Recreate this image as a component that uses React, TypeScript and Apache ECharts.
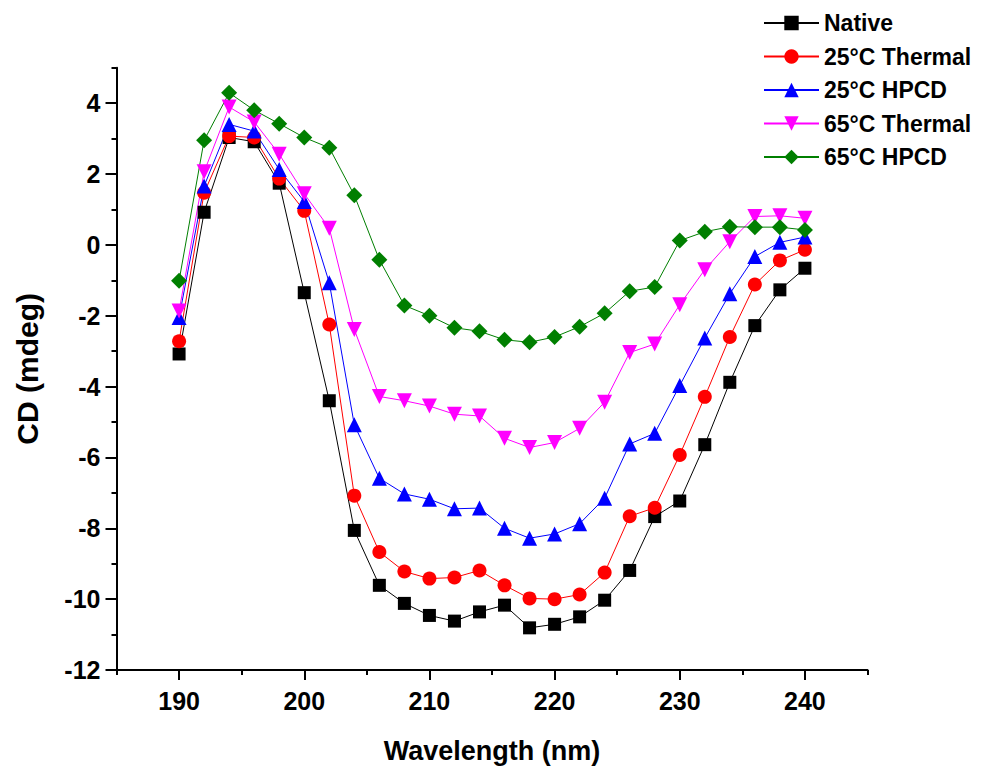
import React, { useEffect, useRef } from "react";
import * as echarts from "echarts";

const wavelengths = [190, 192, 194, 196, 198, 200, 202, 204, 206, 208, 210, 212, 214, 216, 218, 220, 222, 224, 226, 228, 230, 232, 234, 236, 238, 240];

const native = [-3.08, 0.92, 3.03, 2.91, 1.74, -1.35, -4.4, -8.06, -9.61, -10.12, -10.46, -10.62, -10.36, -10.17, -10.81, -10.71, -10.5, -10.03, -9.19, -7.67, -7.23, -5.64, -3.88, -2.28, -1.27, -0.66];
const thermal25 = [-2.72, 1.47, 3.07, 3.03, 1.87, 0.96, -2.25, -7.08, -8.67, -9.22, -9.42, -9.39, -9.19, -9.61, -9.98, -10.0, -9.87, -9.25, -7.66, -7.42, -5.93, -4.29, -2.6, -1.12, -0.44, -0.14];
const hpcd25 = [-2.05, 1.66, 3.4, 3.21, 2.13, 1.22, -1.07, -5.08, -6.59, -7.03, -7.18, -7.45, -7.43, -8.0, -8.28, -8.16, -7.87, -7.15, -5.62, -5.32, -3.97, -2.63, -1.38, -0.33, 0.07, 0.22];
const thermal65 = [-1.87, 2.06, 3.89, 3.47, 2.56, 1.44, 0.47, -2.39, -4.28, -4.4, -4.55, -4.78, -4.83, -5.46, -5.72, -5.58, -5.18, -4.44, -3.04, -2.8, -1.69, -0.7, 0.09, 0.8, 0.82, 0.75];
const hpcd65 = [-1.01, 2.95, 4.29, 3.8, 3.42, 3.03, 2.74, 1.4, -0.42, -1.71, -2.0, -2.34, -2.44, -2.68, -2.75, -2.6, -2.31, -1.93, -1.31, -1.19, 0.12, 0.37, 0.51, 0.5, 0.5, 0.42];

const seriesNames = ["Native", "25°C Thermal", "25°C HPCD", "65°C Thermal", "65°C HPCD"];
const seriesValues = [native, thermal25, hpcd25, thermal65, hpcd65];
const seriesColors = ["#000000", "#ff0000", "#0000ff", "#ff00ff", "#007f00"];
const seriesSymbols = ["rect", "circle", "triangle", "triangle", "diamond"];
const seriesSymbolSizes = [13, 14, 15, 15, 16];
const seriesSymbolRotate = [0, 0, 0, 180, 0];

const xMajorTicks = [190, 200, 210, 220, 230, 240];
const xMinorTicks = [185, 195, 205, 215, 225, 235, 245];
const yMajorTicks = [-12, -10, -8, -6, -4, -2, 0, 2, 4];
const yMinorTicks = [-11, -9, -7, -5, -3, -1, 1, 3, 5];

const FONT = "'Liberation Sans', Arial, sans-serif";

export default function App() {
  const ref = useRef<HTMLDivElement>(null);

  useEffect(() => {
    if (!ref.current) return;
    const chart = echarts.init(ref.current, undefined, { renderer: "svg" });

    const series = seriesNames.map((name, i) => ({
      name,
      type: "line",
      xAxisIndex: 0,
      yAxisIndex: 0,
      data: wavelengths.map((w, j) => [w, seriesValues[i][j]]),
      symbol: seriesSymbols[i],
      symbolSize: seriesSymbolSizes[i],
      symbolRotate: seriesSymbolRotate[i],
      showAllSymbol: true,
      lineStyle: { color: seriesColors[i], width: 1 },
      itemStyle: { color: seriesColors[i] },
      emphasis: { disabled: true },
    }));

    const axisLabelStyle = {
      color: "#000",
      fontFamily: FONT,
      fontWeight: "bold" as const,
      fontSize: 25,
    };

    chart.setOption({
      animation: false,
      backgroundColor: "#ffffff",
      grid: { left: 116.5, right: 114.5, top: 67.7, bottom: 97, containLabel: false },
      legend: {
        orient: "vertical",
        left: 763,
        top: 9,
        padding: 0,
        itemWidth: 55,
        itemHeight: 18,
        itemGap: 5.5,
        data: seriesNames,
        textStyle: {
          color: "#000",
          fontFamily: FONT,
          fontWeight: "bold",
          fontSize: 23,
          lineHeight: 28,
        },
      },
      xAxis: [
        {
          type: "value",
          min: 185,
          max: 245,
          name: "Wavelength (nm)",
          nameLocation: "middle",
          nameGap: 67,
          nameTextStyle: { color: "#000", fontFamily: FONT, fontWeight: "bold", fontSize: 27 },
          axisLine: { onZero: false, lineStyle: { color: "#000", width: 2 } },
          axisTick: { show: true, inside: false, length: 10, lineStyle: { color: "#000", width: 2 }, customValues: xMajorTicks },
          axisLabel: { ...axisLabelStyle, margin: 18, customValues: xMajorTicks },
          splitLine: { show: false },
        },
        {
          type: "value",
          min: 185,
          max: 245,
          position: "bottom",
          axisLine: { show: false, onZero: false },
          axisTick: { show: true, inside: false, length: 5, lineStyle: { color: "#000", width: 2 }, customValues: xMinorTicks },
          axisLabel: { show: false },
          splitLine: { show: false },
        },
      ],
      yAxis: [
        {
          type: "value",
          min: -12,
          max: 5,
          name: "CD (mdeg)",
          nameLocation: "middle",
          nameGap: 74,
          nameTextStyle: { color: "#000", fontFamily: FONT, fontWeight: "bold", fontSize: 30 },
          axisLine: { show: true, onZero: false, lineStyle: { color: "#000", width: 2 } },
          axisTick: { show: true, inside: false, length: 11, lineStyle: { color: "#000", width: 2 }, customValues: yMajorTicks },
          axisLabel: { ...axisLabelStyle, margin: 16, customValues: yMajorTicks },
          splitLine: { show: false },
        },
        {
          type: "value",
          min: -12,
          max: 5,
          position: "left",
          axisLine: { show: false, onZero: false },
          axisTick: { show: true, inside: false, length: 5, lineStyle: { color: "#000", width: 2 }, customValues: yMinorTicks },
          axisLabel: { show: false },
          splitLine: { show: false },
        },
      ],
      series,
    });

    return () => chart.dispose();
  }, []);

  return (
    <div
      ref={ref}
      style={{ position: "fixed", left: 0, top: 0, width: 982, height: 769, background: "#fff" }}
    />
  );
}
